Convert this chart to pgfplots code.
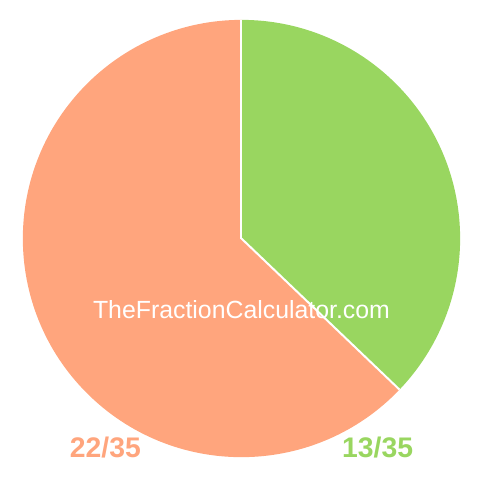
\documentclass[border=0pt]{standalone}
\usepackage{pgfplots}
\pgfplotsset{compat=1.18}
\usepackage{fontspec}
\setmainfont{Liberation Sans}
\definecolor{pieorange}{RGB}{255,165,125}
\definecolor{piegreen}{RGB}{153,214,96}
% parts of the whole
\def\partA{13}
\def\partB{22}
\def\whole{35}
\begin{document}
\begin{tikzpicture}
\begin{axis}[
    width=480bp, height=480bp,
    scale only axis,
    hide axis,
    xmin=-240, xmax=240,
    ymin=-240, ymax=240,
    clip=false,
]
\pgfmathsetmacro{\angA}{90-360*\partA/\whole}
\path (axis cs:-240,-240) rectangle (axis cs:240,240);
% green slice, clockwise from the top
\fill[piegreen] (axis cs:0,0) -- ++(90:220bp)
    arc[start angle=90, end angle=\angA, radius=220bp] -- cycle;
% orange slice
\fill[pieorange] (axis cs:0,0) -- ++(\angA:220bp)
    arc[start angle=\angA, end angle=-270, radius=220bp] -- cycle;
\draw[white, line width=2bp] (axis cs:0,0) -- ++(90:220bp);
\draw[white, line width=2bp] (axis cs:0,0) -- ++(\angA:220bp);
\node[white, anchor=base, inner sep=0pt, font=\fontsize{25bp}{25bp}\selectfont]
    at (axis cs:0,-80) {TheFractionCalculator.com};
\node[pieorange, anchor=base, inner sep=0pt, font=\fontsize{28.5bp}{28.5bp}\selectfont\bfseries]
    at (axis cs:-137,-220) {22/35};
\node[piegreen, anchor=base, inner sep=0pt, font=\fontsize{28.5bp}{28.5bp}\selectfont\bfseries]
    at (axis cs:137,-220) {13/35};
\end{axis}
\end{tikzpicture}
\end{document}
